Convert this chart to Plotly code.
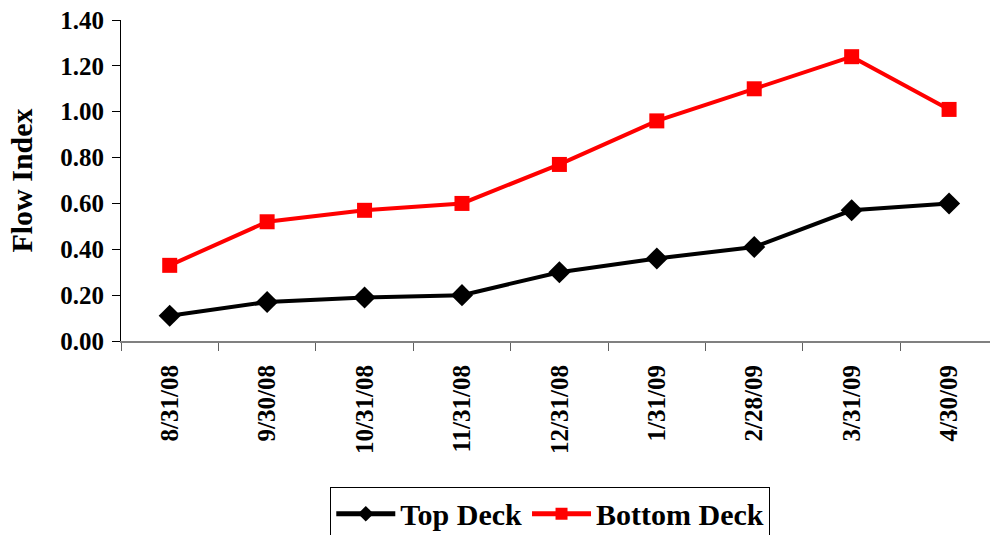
import plotly.graph_objects as go

# Month-end sample dates
dates = ["8/31/08", "9/30/08", "10/31/08", "11/31/08", "12/31/08",
         "1/31/09", "2/28/09", "3/31/09", "4/30/09"]

# Flow index per deck
top_deck = [0.11, 0.17, 0.19, 0.20, 0.30, 0.36, 0.41, 0.57, 0.60]
bottom_deck = [0.33, 0.52, 0.57, 0.60, 0.77, 0.96, 1.10, 1.24, 1.01]

y_ticks = [0.0, 0.2, 0.4, 0.6, 0.8, 1.0, 1.2, 1.4]

FONT = "Liberation Serif, Times New Roman, serif"

fig = go.Figure()
fig.add_trace(go.Scatter(
    x=dates, y=top_deck, name="Top Deck", mode="lines+markers",
    line=dict(color="#000000", width=4),
    marker=dict(symbol="diamond", size=17, color="#000000"),
))
fig.add_trace(go.Scatter(
    x=dates, y=bottom_deck, name="Bottom Deck", mode="lines+markers",
    line=dict(color="#ff0000", width=4),
    marker=dict(symbol="square", size=15, color="#ff0000"),
))

fig.update_layout(
    width=990, height=535,
    margin=dict(l=121, r=0, t=20, b=194, autoexpand=False),
    paper_bgcolor="white", plot_bgcolor="white",
    font=dict(family=FONT, color="black", size=25, weight="bold"),
    showlegend=True,
    legend=dict(
        orientation="h", x=0.494, xanchor="center", y=-0.454, yanchor="top",
        bordercolor="#000000", borderwidth=1, bgcolor="white",
        font=dict(family=FONT, size=30, weight="bold"),
        itemwidth=59, itemsizing="constant", tracegroupgap=0,
    ),
    xaxis=dict(
        type="category", range=[-0.5, 8.42],
        tickangle=-90, tickson="boundaries",
        ticks="outside", ticklen=8, tickcolor="#606060", tickwidth=1,
        ticklabelstandoff=12,
        showline=True, linecolor="#808080", linewidth=2,
        showgrid=False, zeroline=False,
        tickfont=dict(family=FONT, size=25, weight="bold"),
    ),
    yaxis=dict(
        range=[0, 1.4], tickvals=y_ticks, tickformat=".2f",
        ticks="outside", ticklen=8, tickcolor="#000000", tickwidth=1,
        ticklabelstandoff=3,
        showline=True, linecolor="#000000", linewidth=1,
        showgrid=False, zeroline=False,
        tickfont=dict(family=FONT, size=25, weight="bold"),
        title=dict(text="Flow Index", standoff=18,
                   font=dict(family=FONT, size=30, weight="bold")),
    ),
)

fig.write_html("out.html")
